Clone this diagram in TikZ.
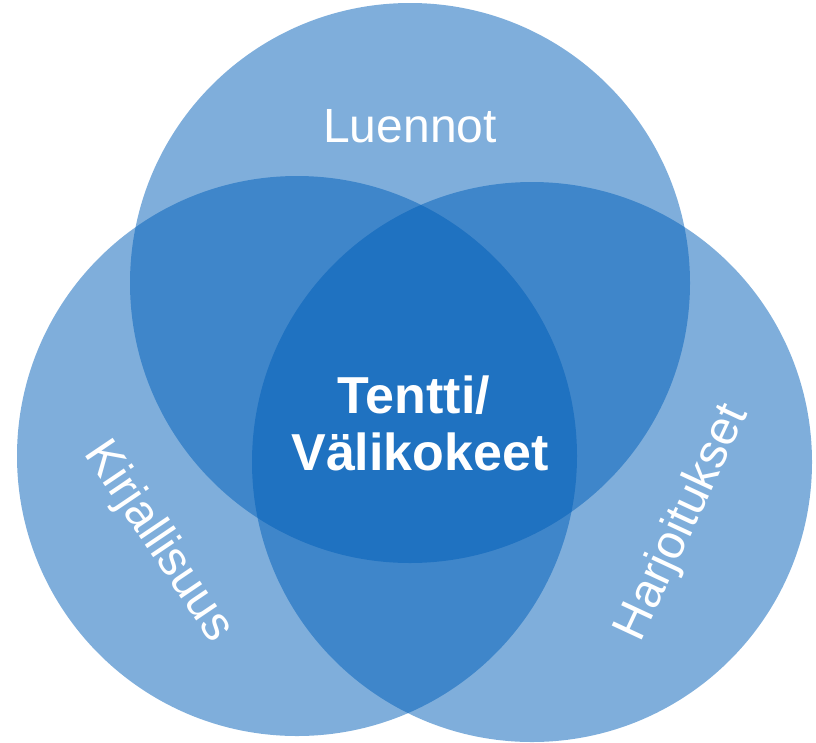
\documentclass[tikz,border=0pt]{standalone}
\usepackage{fontspec}
\setmainfont{Liberation Sans}
\definecolor{vennblue}{RGB}{0,94,184}
\tikzset{
  venn/.style={circle, fill=vennblue, fill opacity=0.5, draw=none, inner sep=0pt, minimum size=560pt},
  lbl/.style={text=white, inner sep=0pt, font=\fontsize{48}{57}\selectfont},
  mainlbl/.style={text=white, inner sep=0pt, align=center, font=\fontsize{52}{57}\selectfont\bfseries}
}
\begin{document}
\begin{tikzpicture}[x=1pt,y=-1pt]
\useasboundingbox (0,0) rectangle (816,742);
\node[venn] (top) at (410,283) {};
\node[venn] (left) at (297,456) {};
\node[venn] (right) at (532,462) {};
\node[lbl, anchor=base] (luennot) at (410,142) {Luennot};
\node[lbl, rotate=-56] (kirj) at (158,542) {Kirjallisuus};
\node[lbl, rotate=65] (harj) at (683,523) {Harjoitukset};
\node[mainlbl, anchor=base] (tentti) at (414,413) {Tentti/};
\node[mainlbl, anchor=base] (vali) at (420,470) {Välikokeet};
\end{tikzpicture}
\end{document}
